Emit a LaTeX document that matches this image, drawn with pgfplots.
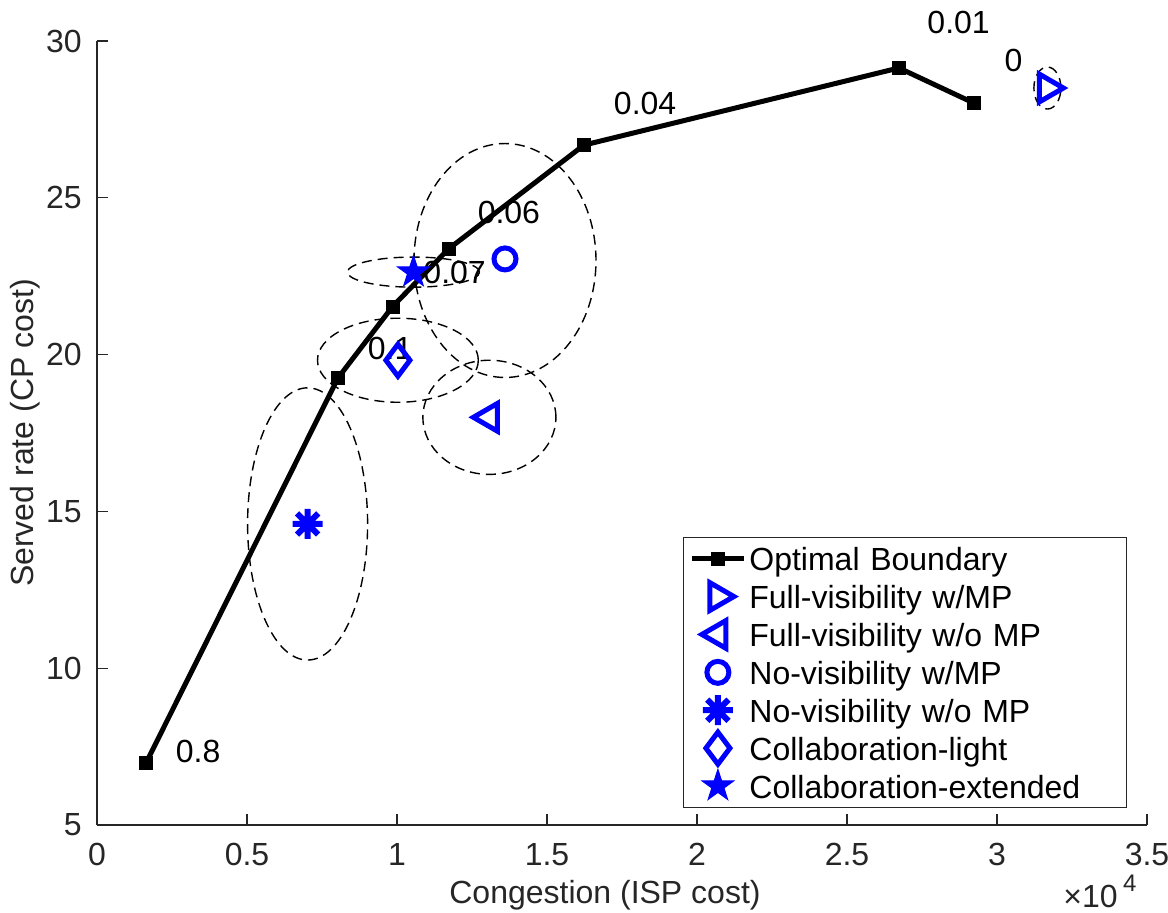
\documentclass[border=0pt]{standalone}
\usepackage{fontspec}
\setmainfont{Liberation Sans}
\usepackage{pgfplots}
\pgfplotsset{compat=1.18}
\definecolor{axgray}{RGB}{38,38,38}
\pgfdeclareplotmark{ast8}{%
  \pgfpathmoveto{\pgfqpoint{0pt}{\pgfplotmarksize}}\pgfpathlineto{\pgfqpoint{0pt}{-\pgfplotmarksize}}%
  \pgfpathmoveto{\pgfqpoint{\pgfplotmarksize}{0pt}}\pgfpathlineto{\pgfqpoint{-\pgfplotmarksize}{0pt}}%
  \pgfpathmoveto{\pgfqpoint{.7071\pgfplotmarksize}{.7071\pgfplotmarksize}}\pgfpathlineto{\pgfqpoint{-.7071\pgfplotmarksize}{-.7071\pgfplotmarksize}}%
  \pgfpathmoveto{\pgfqpoint{-.7071\pgfplotmarksize}{.7071\pgfplotmarksize}}\pgfpathlineto{\pgfqpoint{.7071\pgfplotmarksize}{-.7071\pgfplotmarksize}}%
  \pgfusepathqstroke}
\pgfdeclareplotmark{fstar}{%
  \pgfpathmoveto{\pgfpointpolar{90}{\pgfplotmarksize}}%
  \pgfpathlineto{\pgfpointpolar{126}{.382\pgfplotmarksize}}%
  \pgfpathlineto{\pgfpointpolar{162}{\pgfplotmarksize}}%
  \pgfpathlineto{\pgfpointpolar{198}{.382\pgfplotmarksize}}%
  \pgfpathlineto{\pgfpointpolar{234}{\pgfplotmarksize}}%
  \pgfpathlineto{\pgfpointpolar{270}{.382\pgfplotmarksize}}%
  \pgfpathlineto{\pgfpointpolar{306}{\pgfplotmarksize}}%
  \pgfpathlineto{\pgfpointpolar{342}{.382\pgfplotmarksize}}%
  \pgfpathlineto{\pgfpointpolar{18}{\pgfplotmarksize}}%
  \pgfpathlineto{\pgfpointpolar{54}{.382\pgfplotmarksize}}%
  \pgfpathclose
  \pgfusepathqfillstroke}
\pgfplotsset{bm/.style={only marks, color=blue, line width=2.5pt, mark options={solid, line width=2.5pt}}}
\begin{document}
\begin{tikzpicture}
\begin{axis}[
  scale only axis, width=525pt, height=392pt,
  xmin=0, xmax=35000, ymin=5, ymax=30,
  xtick={0,5000,10000,15000,20000,25000,30000,35000},
  xticklabels={0,0.5,1,1.5,2,2.5,3,3.5},
  ytick={5,10,15,20,25,30},
  yticklabels={5,10,15,20,25,30},
  scaled x ticks=false, scaled y ticks=false,
  axis x line*=bottom, axis y line*=left,
  axis line style={axgray, line width=0.6pt},
  tick align=inside, major tick length=5.5pt,
  tick style={axgray, line width=0.6pt},
  minor tick num=0,
  font=\fontsize{16}{19}\selectfont,
  ticklabel style={font=\fontsize{16}{19}\selectfont, text=axgray},
  x tick label style={inner sep=0pt, anchor=north, yshift=-9pt},
  y tick label style={inner sep=0pt, anchor=east, xshift=-7.5pt},
  xlabel={Congestion (ISP cost)}, ylabel={Served rate (CP cost)},
  label style={text=axgray, font=\fontsize{16}{19}\selectfont},
  xlabel style={at={([xshift=-8.5pt,yshift=-35pt]axis description cs:0.5,0)}, anchor=center, inner sep=0pt},
  ylabel style={at={([xshift=-36pt]axis description cs:0,0.5)}, anchor=center, inner sep=0pt},
  clip=false,
  legend cell align=left,
  legend image code/.code={\draw[mark repeat=2,mark phase=2,#1] plot coordinates {(0pt,0pt) (13pt,0pt) (26pt,0pt)};},
  legend style={at={(rel axis cs:1,0)}, anchor=south east, xshift=-10pt, yshift=8.5pt,
    draw=axgray, line width=0.6pt, fill=white, inner xsep=3pt, inner ysep=1.2pt,
    row sep=0pt, column sep=0pt, font=\fontsize{16}{19}\selectfont,
    nodes={inner xsep=1.5pt, inner ysep=1.5pt, text height=14pt, text depth=1.95pt},
    /tikz/column 2/.style={nodes={text width=184pt, align=left}}},
]
\addplot[black, line width=2.5pt, mark=square*, mark size=3pt, mark options={solid, line width=1pt, fill=black}]
  coordinates {(1630,6.97) (8030,19.25) (9850,21.53) (11720,23.37) (16230,26.68) (26730,29.14) (29230,28.02)};
\addlegendentry{Optimal Boundary}
\addplot[bm, mark=triangle, mark size=8pt, mark options={rotate=-90}] coordinates {(31680,28.5)};
\addlegendentry{Full-visibility w/MP}
\addplot[bm, mark=triangle, mark size=8pt, mark options={rotate=90}] coordinates {(13080,18.0)};
\addlegendentry{Full-visibility w/o MP}
\addplot[bm, mark=o, mark size=5.5pt] coordinates {(13600,23.05)};
\addlegendentry{No-visibility w/MP}
\addplot[only marks, color=blue, mark=ast8, mark size=7.5pt, mark options={solid, line width=3pt}] coordinates {(7020,14.6)};
\addlegendentry{No-visibility w/o MP}
\addplot[bm, mark=diamond, mark size=8pt] coordinates {(10030,19.82)};
\addlegendentry{Collaboration-light}
\addplot[only marks, color=blue, mark=fstar, mark size=8.3pt, mark options={solid, fill=blue, line width=0.5pt}] coordinates {(10550,22.63)};
\addlegendentry{Collaboration-extended}
\begin{scope}[dash pattern=on 5pt off 3pt, line width=0.7pt, black]
\draw (axis cs:7020,14.6) ellipse [x radius=2000, y radius=4.34];
\draw (axis cs:10030,19.82) ellipse [x radius=2680, y radius=1.34];
\draw (axis cs:13080,18.0) ellipse [x radius=2217, y radius=1.82];
\draw (axis cs:13600,23.0) ellipse [x radius=3033, y radius=3.73];
\draw (axis cs:10550,22.63) ellipse [x radius=2200, y radius=0.48];
\draw (axis cs:31680,28.5) ellipse [x radius=450, y radius=0.67];
\end{scope}
\begin{scope}[every node/.style={inner sep=0pt, anchor=center, font=\fontsize{16}{19}\selectfont}]
\node at (axis cs:3370,7.33) {0.8};
\node at (axis cs:9770,20.18) {0.1};
\node at (axis cs:11920,22.63) {0.07};
\node at (axis cs:13730,24.52) {0.06};
\node at (axis cs:18270,28.02) {0.04};
\node at (axis cs:28720,30.59) {0.01};
\node at (axis cs:30550,29.38) {0};
\node[text=axgray, anchor=base west] at ([xshift=-42pt,yshift=-41.5pt]rel axis cs:1,0) {×10\,\raisebox{1ex}{\fontsize{12}{12}\selectfont 4}};
\end{scope}
\end{axis}
\pgfresetboundingbox
\path ([shift={(-48.5pt,-44pt)}]current axis.south west) rectangle ([shift={(10.5pt,20.5pt)}]current axis.north east);
\end{tikzpicture}
\end{document}
